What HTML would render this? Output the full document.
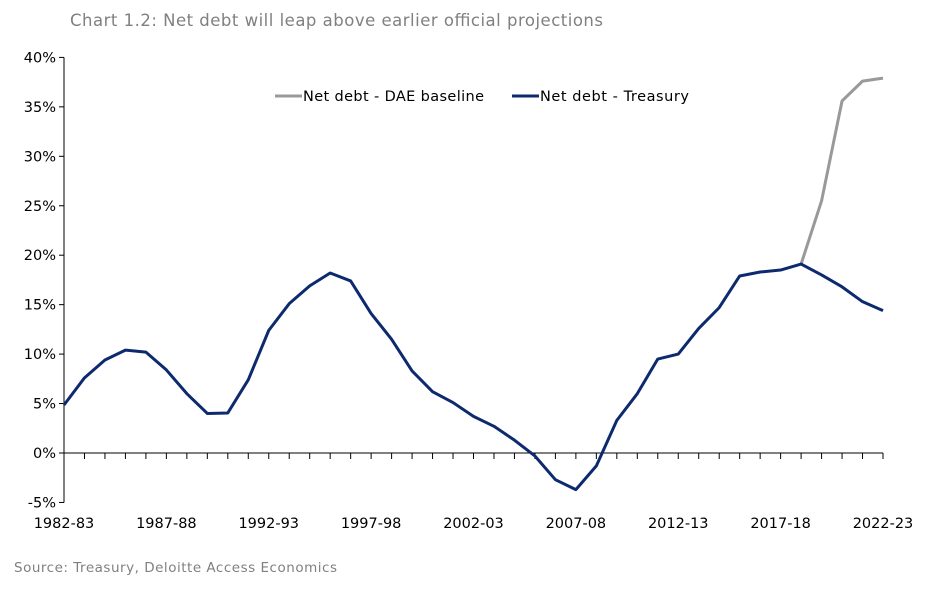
<!DOCTYPE html>
<html><head><meta charset="utf-8"><style>
body{margin:0;background:#fff;width:930px;height:590px;overflow:hidden;font-family:Verdana,"DejaVu Sans",sans-serif}
</style></head><body>
<svg id="c" width="930" height="590" xmlns="http://www.w3.org/2000/svg">
<text x="70" y="26" font-size="16.5" fill="#808080" textLength="533" lengthAdjust="spacing">Chart 1.2:  Net debt will leap above earlier official projections</text>
<text x="14" y="572" font-size="13.5" fill="#808080" textLength="323" lengthAdjust="spacing">Source:  Treasury, Deloitte Access Economics</text>
<g id="axes"></g><g id="series"></g>
<g>
<line x1="275" y1="96" x2="302" y2="96" stroke="#999" stroke-width="3"/>
<text x="303" y="101" font-size="14.5" fill="#000" textLength="181" lengthAdjust="spacing">Net debt - DAE baseline</text>
<line x1="512" y1="96" x2="539" y2="96" stroke="#0d2a6e" stroke-width="3"/>
<text x="540" y="101" font-size="14.5" fill="#000" textLength="149" lengthAdjust="spacing">Net debt - Treasury</text>
</g>
</svg>
<script>
const years=[];for(let y=1982;y<=2022;y++)years.push(y);
const treasury=[4.85,7.6,9.4,10.4,10.2,8.4,6.0,4.0,4.05,7.4,12.4,15.1,16.9,18.2,17.4,14.1,11.5,8.3,6.2,5.1,3.7,2.7,1.3,-0.3,-2.7,-3.7,-1.3,3.3,6.0,9.5,10.0,12.6,14.7,17.9,18.3,18.5,19.1,18.0,16.8,15.3,14.4];
const daeStartIndex=36;
const dae=[19.1,25.5,35.6,37.6,37.9];
const yTicks=[-5,0,5,10,15,20,25,30,35,40];
const xLabelYears=[1982,1987,1992,1997,2002,2007,2012,2017,2022];
const NS="http://www.w3.org/2000/svg";
const X0=64,X1=883,Y0=453,PERPCT=9.89;
const xs=i=>X0+(X1-X0)*i/(years.length-1);
const ys=v=>Y0-v*PERPCT;
const axes=document.getElementById('axes'),ser=document.getElementById('series');
function mk(tag,at,parent){const e=document.createElementNS(NS,tag);for(const k in at)e.setAttribute(k,at[k]);parent.appendChild(e);return e;}
const ya=mk('line',{x1:X0,y1:ys(40),x2:X0,y2:ys(-5),stroke:'#000','stroke-width':1},axes);


const xa=mk('line',{x1:X0,y1:Y0,x2:X1,y2:Y0,stroke:'#000','stroke-width':1},axes);


yTicks.forEach(t=>{
 mk('line',{x1:X0-5,y1:ys(t),x2:X0,y2:ys(t),stroke:'#000'},axes);
 const tx=mk('text',{x:X0-8,y:ys(t)+5,'font-size':14.5,'text-anchor':'end',fill:'#000'},axes);
 tx.textContent=t+'%';
 
 
});
years.forEach((y,i)=>{mk('line',{x1:xs(i),y1:Y0,x2:xs(i),y2:Y0+6,stroke:'#000'},axes);});
xLabelYears.forEach(y=>{
 const i=years.indexOf(y);
 const tx=mk('text',{x:xs(i),y:528,'font-size':14.5,'text-anchor':'middle',fill:'#000'},axes);
 tx.textContent=y+'-'+String((y+1)%100).padStart(2,'0');
 
 
});
const dp=mk('polyline',{points:dae.map((v,j)=>xs(daeStartIndex+j)+','+ys(v)).join(' '),fill:'none',stroke:'#999','stroke-width':3,'stroke-linejoin':'round'},ser);


const tp=mk('polyline',{points:treasury.map((v,i)=>xs(i)+','+ys(v)).join(' '),fill:'none',stroke:'#0d2a6e','stroke-width':3,'stroke-linejoin':'round'},ser);


</script>
</body></html>
